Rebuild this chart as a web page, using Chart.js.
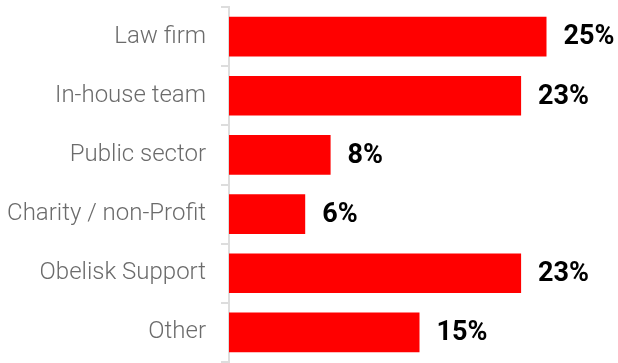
<!DOCTYPE html>
<html>
<head>
<meta charset="utf-8">
<script src="https://cdn.jsdelivr.net/npm/chart.js@4/dist/chart.umd.min.js"></script>
<style>
    html, body { margin: 0; padding: 0; background: #fff; }
    #wrap { width: 618px; height: 363px; position: relative; }
</style>
</head>
<body>
<div id="wrap"><canvas id="chart"></canvas></div>
<script>
    const categories = [
        'Law firm',
        'In-house team',
        'Public sector',
        'Charity / non-Profit',
        'Obelisk Support',
        'Other'
    ];
    const percentages = [25, 23, 8, 6, 23, 15];

    // writes "NN%" just right of each bar
    const valueLabels = {
        id: 'valueLabels',
        afterDatasetsDraw(chart) {
            const ctx = chart.ctx;
            const meta = chart.getDatasetMeta(0);
            ctx.save();
            ctx.font = 'bold 27px Roboto';
            ctx.fillStyle = '#000';
            ctx.textAlign = 'left';
            ctx.textBaseline = 'middle';
            meta.data.forEach((bar, i) => {
                ctx.fillText(chart.data.datasets[0].data[i] + '%', bar.x + 17, bar.y + 1);
            });
            ctx.restore();
        }
    };

    const chart = new Chart(document.getElementById('chart'), {
        type: 'bar',
        data: {
            labels: categories,
            datasets: [{
                data: percentages,
                backgroundColor: '#ff0000',
                borderWidth: 0,
                barPercentage: 0.67,
                categoryPercentage: 1
            }]
        },
        options: {
            indexAxis: 'y',
            responsive: true,
            maintainAspectRatio: false,
            animation: false,
            layout: {
                padding: { top: 7, right: 8, bottom: 1, left: 0 }
            },
            plugins: {
                legend: { display: false },
                tooltip: { enabled: false }
            },
            scales: {
                x: {
                    display: false,
                    min: 0,
                    max: 30
                },
                y: {
                    afterFit: (scale) => {
                        scale.width = 229;
                        scale.paddingTop = 0;
                        scale.paddingBottom = 0;
                    },
                    grid: {
                        drawOnChartArea: false,
                        tickLength: 8,
                        color: '#dddddd',
                        lineWidth: 2
                    },
                    border: {
                        color: '#dddddd',
                        width: 2
                    },
                    ticks: {
                        padding: 15,
                        color: '#6b6b6b',
                        font: { family: 'Roboto', size: 24, weight: '300' }
                    }
                }
            }
        },
        plugins: [valueLabels]
    });
</script>
</body>
</html>
